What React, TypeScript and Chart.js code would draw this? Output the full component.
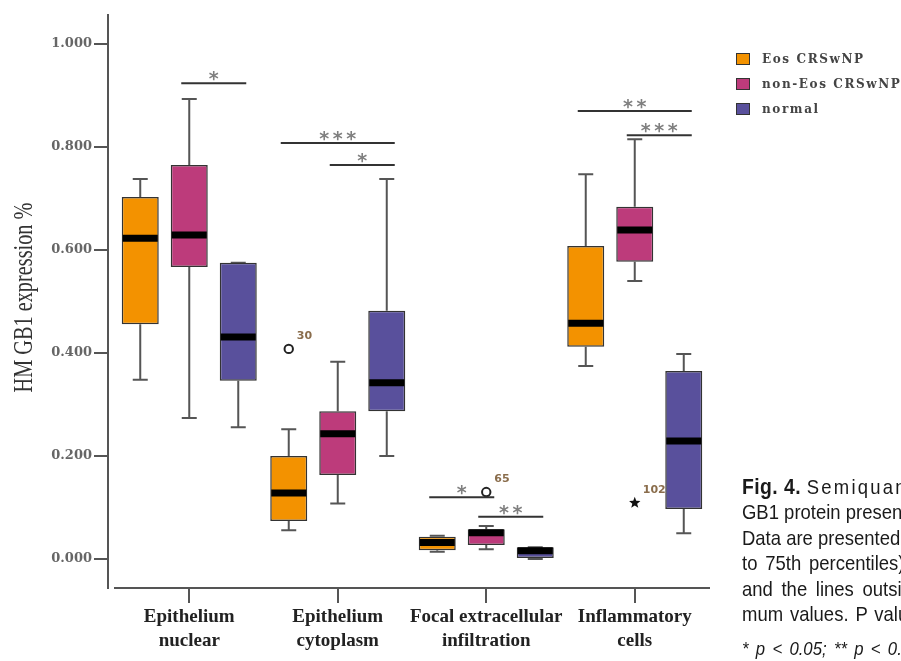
import React, { useEffect, useRef } from 'react';
import { Chart, registerables } from 'chart.js';

Chart.register(...registerables);

// ---------- data ----------
const categories = [
  ['Epithelium', 'nuclear'],
  ['Epithelium', 'cytoplasm'],
  ['Focal extracellular', 'infiltration'],
  ['Inflammatory', 'cells'],
];
const seriesNames = ['Eos CRSwNP', 'non-Eos CRSwNP', 'normal'];
const yTicks = [0, 0.2, 0.4, 0.6, 0.8, 1.0];

// Eos CRSwNP
const eosMin = [0.348, 0.056, 0.014, 0.375];
const eosQ1 = [0.456, 0.074, 0.017, 0.412];
const eosMed = [0.623, 0.128, 0.032, 0.458];
const eosQ3 = [0.703, 0.2, 0.043, 0.608];
const eosMax = [0.738, 0.252, 0.045, 0.747];

// non-Eos CRSwNP
const nonMin = [0.274, 0.108, 0.019, 0.54];
const nonQ1 = [0.567, 0.163, 0.027, 0.577];
const nonMed = [0.629, 0.243, 0.051, 0.639];
const nonQ3 = [0.765, 0.287, 0.058, 0.684];
const nonMax = [0.893, 0.383, 0.064, 0.815];

// normal
const normMin = [0.256, 0.2, 0.0, 0.05];
const normQ1 = [0.346, 0.287, 0.0, 0.097];
const normMed = [0.431, 0.342, 0.016, 0.229];
const normQ3 = [0.575, 0.482, 0.023, 0.365];
const normMax = [0.575, 0.738, 0.023, 0.398];

// outliers
const outlierCat = [1, 2, 3];
const outlierSeries = [0, 1, 1];
const outlierValue = [0.408, 0.13, 0.109];
const outlierLabel = ['30', '65', '102'];
const outlierMark = ['circle', 'circle', 'star'];

// significance brackets
const sigCat = [0, 1, 1, 2, 2, 3, 3];
const sigFrom = [1, 0, 1, 0, 1, 0, 1];
const sigTo = [2, 2, 2, 1, 2, 2, 2];
const sigValue = [0.924, 0.808, 0.765, 0.12, 0.082, 0.87, 0.823];
const sigText = ['*', '***', '*', '*', '**', '**', '***'];

const captionLines = [
  'Semiquantitative analysis of HM-',
  'GB1 protein present in the sinonasal tissue.',
  'Data are presented as box plots (25th',
  'to 75th percentiles), the median line,',
  'and the lines outside the box: mini-',
  'mum values. P values were calculated.',
];
const captionFoot = '* p < 0.05; ** p < 0.01; *** p < 0.001.';

// ---------- style ----------
const COLORS = ['#F39200', '#BD3B7B', '#59509C'];
const Y_MIN = -0.0563;
const Y_MAX = 1.0563;
const X_AXIS_START = 115;

const mins = [eosMin, nonMin, normMin];
const meds = [eosMed, nonMed, normMed];
const maxs = [eosMax, nonMax, normMax];

function barAt(chart: any, series: number, cat: number) {
  const el = chart.getDatasetMeta(series).data[cat];
  return el.getProps(['x', 'width'], true);
}

function drawStar(ctx: CanvasRenderingContext2D, cx: number, cy: number, r: number) {
  ctx.beginPath();
  for (let i = 0; i < 10; i++) {
    const rad = i % 2 === 0 ? r : r * 0.42;
    const a = -Math.PI / 2 + (i * Math.PI) / 5;
    const px = cx + rad * Math.cos(a);
    const py = cy + rad * Math.sin(a);
    if (i === 0) ctx.moveTo(px, py);
    else ctx.lineTo(px, py);
  }
  ctx.closePath();
  ctx.fill();
}

const boxPlugin = {
  id: 'boxExtras',
  afterLayout(chart: any) {
    const x = chart.scales.x;
    x.left = X_AXIS_START;
    x.width = x.right - x.left;
    x.configure();
  },
  beforeDatasetsDraw(chart: any) {
    const ctx = chart.ctx as CanvasRenderingContext2D;
    const y = chart.scales.y;
    ctx.save();
    ctx.strokeStyle = '#555';
    ctx.lineWidth = 2;
    for (let s = 0; s < 3; s++) {
      for (let c = 0; c < categories.length; c++) {
        const { x } = barAt(chart, s, c);
        const q = chart.data.datasets[s].data[c];
        const yMax = y.getPixelForValue(maxs[s][c]);
        const yMin = y.getPixelForValue(mins[s][c]);
        const yQ3 = y.getPixelForValue(q[1]);
        const yQ1 = y.getPixelForValue(q[0]);
        const cap = 7.5;
        ctx.beginPath();
        ctx.moveTo(x, yQ3);
        ctx.lineTo(x, yMax);
        ctx.moveTo(x - cap, yMax);
        ctx.lineTo(x + cap, yMax);
        ctx.moveTo(x, yQ1);
        ctx.lineTo(x, yMin);
        ctx.moveTo(x - cap, yMin);
        ctx.lineTo(x + cap, yMin);
        ctx.stroke();
      }
    }
    ctx.restore();
  },
  afterDatasetsDraw(chart: any) {
    const ctx = chart.ctx as CanvasRenderingContext2D;
    const y = chart.scales.y;
    ctx.save();
    // medians
    ctx.strokeStyle = '#000';
    ctx.lineWidth = 7;
    for (let s = 0; s < 3; s++) {
      for (let c = 0; c < categories.length; c++) {
        const { x, width } = barAt(chart, s, c);
        const py = y.getPixelForValue(meds[s][c]);
        ctx.beginPath();
        ctx.moveTo(x - width / 2 + 1, py);
        ctx.lineTo(x + width / 2 - 1, py);
        ctx.stroke();
      }
    }
    // outliers
    for (let i = 0; i < outlierValue.length; i++) {
      const { x } = barAt(chart, outlierSeries[i], outlierCat[i]);
      const py = y.getPixelForValue(outlierValue[i]);
      if (outlierMark[i] === 'circle') {
        ctx.beginPath();
        ctx.arc(x, py, 4.2, 0, Math.PI * 2);
        ctx.fillStyle = '#fff';
        ctx.fill();
        ctx.lineWidth = 2;
        ctx.strokeStyle = '#222';
        ctx.stroke();
      } else {
        ctx.fillStyle = '#111';
        drawStar(ctx, x, py, 6);
      }
      ctx.fillStyle = '#8a6d4c';
      ctx.font = 'bold 11px "DejaVu Sans"';
      ctx.textAlign = 'left';
      ctx.textBaseline = 'middle';
      ctx.fillText(outlierLabel[i], x + 8, py - 13);
    }
    // significance brackets
    for (let i = 0; i < sigValue.length; i++) {
      const a = barAt(chart, sigFrom[i], sigCat[i]);
      const b = barAt(chart, sigTo[i], sigCat[i]);
      const x1 = a.x - 8;
      const x2 = b.x + 8;
      const py = y.getPixelForValue(sigValue[i]);
      ctx.beginPath();
      ctx.strokeStyle = '#333';
      ctx.lineWidth = 2;
      ctx.moveTo(x1, py);
      ctx.lineTo(x2, py);
      ctx.stroke();
      ctx.fillStyle = '#808080';
      ctx.font = 'bold 19px "DejaVu Sans"';
      (ctx as any).letterSpacing = '3.5px';
      ctx.textAlign = 'center';
      ctx.textBaseline = 'alphabetic';
      ctx.fillText(sigText[i], (x1 + x2) / 2 + 1.75, py + 2);
      (ctx as any).letterSpacing = '0px';
    }
    // y title
    const title = 'HM GB1 expression %';
    ctx.font = '27px "Liberation Serif"';
    const w = ctx.measureText(title).width;
    ctx.translate(32, (chart.chartArea.top + chart.chartArea.bottom) / 2 - 4);
    ctx.rotate(-Math.PI / 2);
    ctx.scale(190 / w, 1);
    ctx.fillStyle = '#333';
    ctx.textAlign = 'center';
    ctx.textBaseline = 'alphabetic';
    ctx.fillText(title, 0, 0);
    ctx.restore();
  },
};

export default function App() {
  const ref = useRef<HTMLCanvasElement>(null);
  useEffect(() => {
    const pairs = (lo: number[], hi: number[]) => lo.map((v, i) => [v, hi[i]]);
    const q1s = [eosQ1, nonQ1, normQ1];
    const q3s = [eosQ3, nonQ3, normQ3];
    const chart = new Chart(ref.current as HTMLCanvasElement, {
      type: 'bar',
      data: {
        labels: categories as any,
        datasets: seriesNames.map((name, s) => ({
          label: name,
          data: pairs(q1s[s], q3s[s]) as any,
          backgroundColor: COLORS[s],
          borderColor: '#333',
          borderWidth: 1.5,
          borderSkipped: false,
          categoryPercentage: 0.99,
          barPercentage: 0.755,
        })),
      },
      options: {
        responsive: false,
        animation: false,
        devicePixelRatio: 1,
        layout: { padding: { top: 15, right: 192, left: 0, bottom: 0 } },
        plugins: { legend: { display: false }, tooltip: { enabled: false } },
        scales: {
          x: {
            grid: { offset: false, drawOnChartArea: false, tickLength: 15, color: '#555', lineWidth: 2 },
            border: { color: '#555', width: 2 },
            ticks: {
              color: '#222',
              font: { family: '"Liberation Serif"', weight: 'bold', size: 19, lineHeight: 24 / 19 },
              padding: 2,
              maxRotation: 0,
              autoSkip: false,
            },
            afterFit: (s: any) => {
              s.height = 73;
            },
          },
          y: {
            min: Y_MIN,
            max: Y_MAX,
            afterBuildTicks: (s: any) => {
              s.ticks = yTicks.map((v) => ({ value: v }));
            },
            grid: { drawOnChartArea: false, tickLength: 14, color: '#555', lineWidth: 2 },
            border: { color: '#555', width: 2 },
            ticks: {
              callback: (v: any) => Number(v).toFixed(3),
              color: '#666',
              font: { family: '"DejaVu Serif"', weight: 'bold', size: 13 },
              padding: 2,
            },
            afterFit: (s: any) => {
              s.width = 108;
            },
          },
        },
      } as any,
      plugins: [boxPlugin as any],
    });
    return () => chart.destroy();
  }, []);

  const legendTops = [53, 78, 103];
  const lineWordSpacing = ['0px', '0px', '0px', '3px', '4px', '2px'];
  return (
    <div
      style={{
        position: 'absolute',
        left: 0,
        top: 0,
        width: 901,
        height: 661,
        overflow: 'hidden',
        background: '#fff',
      }}
    >
      <canvas ref={ref} width={901} height={661} style={{ display: 'block', width: 901, height: 661 }} />
      {seriesNames.map((n, i) => (
        <div key={n}>
          <div
            style={{
              position: 'absolute',
              left: 736,
              top: legendTops[i],
              width: 12,
              height: 10,
              background: COLORS[i],
              border: '1.5px solid #333',
            }}
          />
          <div
            style={{
              position: 'absolute',
              left: 762,
              top: legendTops[i] - 3,
              height: 18,
              lineHeight: '18px',
              fontFamily: '"DejaVu Serif"',
              fontWeight: 'bold',
              fontSize: 12,
              letterSpacing: '1.6px',
              color: '#444',
              whiteSpace: 'nowrap',
            }}
          >
            {n}
          </div>
        </div>
      ))}
      <div
        style={{
          position: 'absolute',
          left: 742,
          top: 474,
          fontFamily: '"Liberation Sans", sans-serif',
          fontSize: 21,
          lineHeight: '25.4px',
          color: '#1a1a1a',
          whiteSpace: 'nowrap',
          transform: 'scaleX(0.88)',
          transformOrigin: 'left top',
        }}
      >
        {captionLines.map((l, i) => (
          <div key={i} style={{ wordSpacing: lineWordSpacing[i] }}>
            {i === 0 ? <b style={{ fontSize: 22, letterSpacing: '0.5px' }}>Fig. 4. </b> : null}
            {i === 0 ? <span style={{ letterSpacing: '2.5px' }}>{l}</span> : l}
          </div>
        ))}
        <div style={{ fontStyle: 'italic', fontSize: 19, marginTop: 10, wordSpacing: '3px' }}>{captionFoot}</div>
      </div>
    </div>
  );
}
